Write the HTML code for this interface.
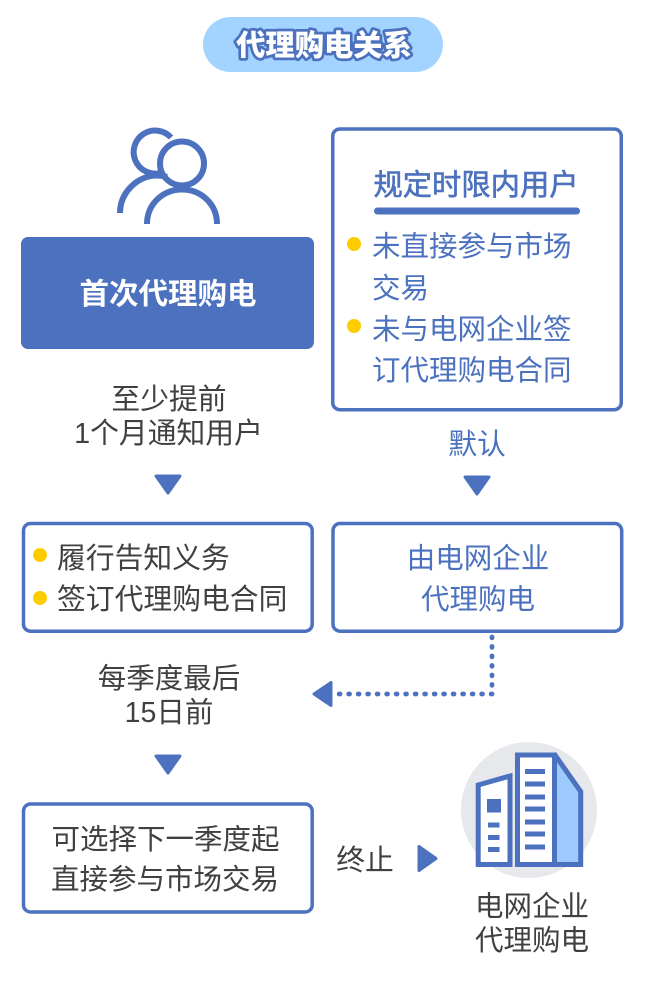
<!DOCTYPE html>
<html lang="zh">
<head>
<meta charset="utf-8">
<title>代理购电关系</title>
<style>
html,body{margin:0;padding:0;background:#fff;width:646px;height:1000px;overflow:hidden}
svg{display:block}
text{font-family:"Liberation Sans","Noto Sans CJK SC",sans-serif;font-size:28.8px;fill:#404040}
.m{text-anchor:middle}
.b{fill:#4c72bf}
.l{font-size:28.500px}
</style>
</head>
<body>
<svg xmlns="http://www.w3.org/2000/svg" width="646" height="1000" viewBox="0 0 646 1000">
<rect x="203" y="17" width="240" height="55" rx="27.5" fill="#a3d3ff"/>
<text x="324" y="55.500" class="m" style="font-size:29.3px;font-weight:900;fill:#fff;stroke:#4c72bf;stroke-width:5.500px;paint-order:stroke;stroke-linejoin:round">代理购电关系</text>

<g fill="none" stroke="#4c72bf" stroke-width="6">
<path d="M171 137.500A21.500 21.500 0 1 0 160 173"/>
<path d="M120 213C120 192 138 175.500 157 175.500C161 175.500 164 176 167 177"/>
<circle cx="182" cy="163.500" r="22"/>
<path d="M147 224C147 204 163 189.500 182 189.500C201 189.500 217 204 217 224"/>
</g>

<rect x="21" y="237" width="293" height="112" rx="7" fill="#4c72bf"/>
<text x="168" y="304" class="m" style="font-size:29.500px;font-weight:700;fill:#fff">首次代理购电</text>

<rect x="332.750" y="129" width="288.500" height="280.700" rx="7" fill="#fff" stroke="#4c72bf" stroke-width="3.500"/>
<text x="476" y="195" class="m b" style="font-size:29.300px;stroke:#4c72bf;stroke-width:.6px">规定时限内用户</text>
<rect x="374" y="207.500" width="206" height="7" rx="3.500" fill="#4c72bf"/>
<circle cx="354" cy="244" r="7" fill="#ffcc00"/>
<circle cx="354" cy="326" r="7" fill="#ffcc00"/>
<text x="372" y="256" class="b l">未直接参与市场</text>
<text x="372" y="298" class="b l">交易</text>
<text x="372" y="339" class="b l">未与电网企业签</text>
<text x="372" y="380" class="b l">订代理购电合同</text>

<text x="169" y="409" class="m">至少提前</text>
<text x="168.500" y="443" class="m">1个月通知用户</text>
<text x="477" y="454" class="m b">默认</text>
<path d="M156 476H180L168 493Z" fill="#4c72bf" stroke="#4c72bf" stroke-width="3" stroke-linejoin="round"/>
<path d="M465 477H489L477 494Z" fill="#4c72bf" stroke="#4c72bf" stroke-width="3" stroke-linejoin="round"/>

<rect x="23.500" y="523.500" width="288.700" height="107.700" rx="7" fill="#fff" stroke="#4c72bf" stroke-width="3.500"/>
<circle cx="40" cy="555" r="7" fill="#ffcc00"/>
<circle cx="40" cy="598" r="7" fill="#ffcc00"/>
<text x="57" y="568">履行告知义务</text>
<text x="57" y="609">签订代理购电合同</text>

<rect x="333" y="523.500" width="288.700" height="107.700" rx="7" fill="#fff" stroke="#4c72bf" stroke-width="3.500"/>
<text x="478" y="568" class="m b l">由电网企业</text>
<text x="478" y="609" class="m b l">代理购电</text>

<text x="169" y="688" class="m l">每季度最后</text>
<text x="169" y="722" class="m l">15日前</text>
<path d="M156 756H180L168 773Z" fill="#4c72bf" stroke="#4c72bf" stroke-width="3" stroke-linejoin="round"/>

<path d="M492 637V694H338" fill="none" stroke="#4c72bf" stroke-width="4.800" stroke-linecap="round" stroke-dasharray="0.800 8.700"/>
<path d="M331 682.500V705.500L314 694Z" fill="#4c72bf" stroke="#4c72bf" stroke-width="3" stroke-linejoin="round"/>

<rect x="23.500" y="804" width="288.700" height="108" rx="7" fill="#fff" stroke="#4c72bf" stroke-width="3.500"/>
<text x="165.500" y="849" class="m l">可选择下一季度起</text>
<text x="165" y="889" class="m l">直接参与市场交易</text>
<text x="365" y="870" class="m">终止</text>
<path d="M419 846.500V870.500L436 858.500Z" fill="#4c72bf" stroke="#4c72bf" stroke-width="3" stroke-linejoin="round"/>

<circle cx="529" cy="810" r="68" fill="#e6e8eb"/>
<path d="M478.200 785L510 776V864.500H478.200Z" fill="#fff" stroke="#4c72bf" stroke-width="5"/>
<rect x="487" y="799" width="14" height="13.500" fill="#4c72bf"/>
<rect x="488" y="822.500" width="11.500" height="5" fill="#4c72bf"/>
<rect x="488" y="835" width="11.500" height="5" fill="#4c72bf"/>
<rect x="488" y="847" width="11.500" height="5" fill="#4c72bf"/>
<path d="M554.500 755H555L580.700 791.500V864.500H554.500Z" fill="#9ecbff" stroke="#4c72bf" stroke-width="5"/>
<rect x="517.500" y="755" width="37" height="109.500" fill="#fff" stroke="#4c72bf" stroke-width="5"/>
<g fill="#4c72bf">
<rect x="525" y="769" width="20" height="5"/>
<rect x="525" y="781.500" width="20" height="5"/>
<rect x="525" y="794.500" width="20" height="5"/>
<rect x="525" y="806.500" width="20" height="5"/>
<rect x="525" y="819.500" width="20" height="5"/>
<rect x="525" y="831.500" width="20" height="5"/>
<rect x="525" y="844.500" width="20" height="5"/>
</g>
<text x="532" y="916" class="m l">电网企业</text>
<text x="532" y="950" class="m l">代理购电</text>
</svg>
</body>
</html>
